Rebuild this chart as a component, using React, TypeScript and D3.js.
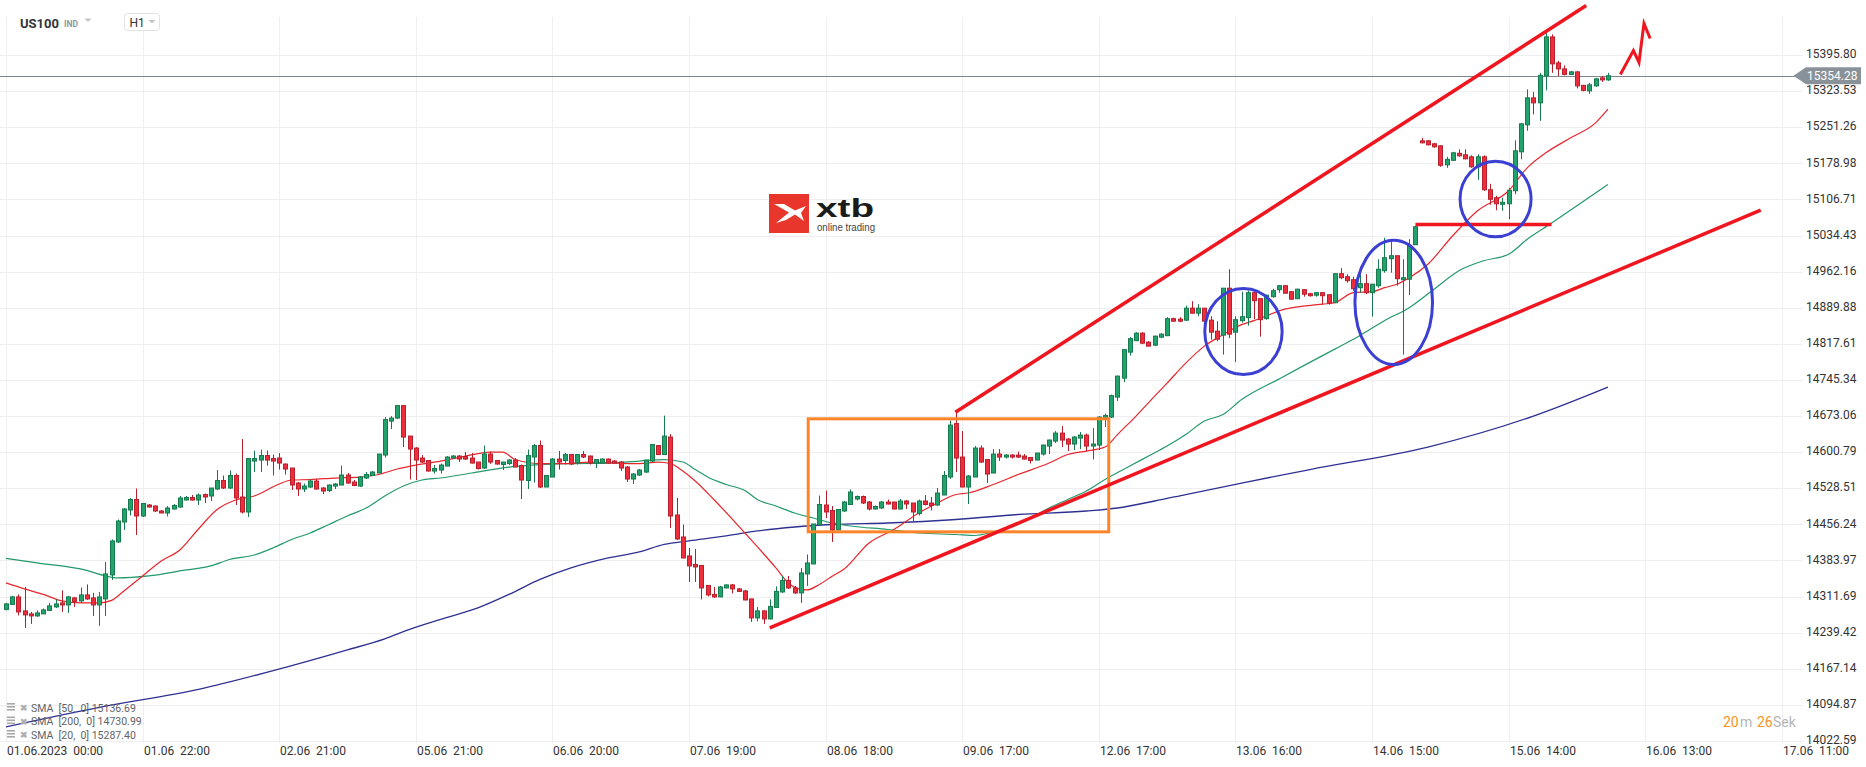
import React from 'react';
import * as d3 from 'd3';

const W = 1866;
const H = 767;

// ---- candle data (hourly, index 0 = 01.06.2023 00:00) ----
const openP = [
  14286,14296,14311,14283,14277,14273,14277,14284,14291,14299,
  14295,14309,14303,14315,14309,14295,14307,14355,14421,14461,
  14485,14506,14473,14495,14493,14483,14479,14487,14491,14505,
  14510,14505,14516,14513,14527,14544,14529,14554,14511,14481,
  14583,14585,14594,14588,14589,14577,14569,14539,14527,14531,
  14543,14529,14524,14533,14535,14555,14541,14533,14549,14554,
  14559,14595,14663,14669,14694,14633,14609,14589,14584,14563,
  14565,14573,14589,14593,14592,14589,14581,14569,14597,14584,
  14576,14578,14585,14574,14544,14591,14614,14531,14551,14587,
  14584,14596,14579,14596,14593,14579,14579,14587,14583,14581,
  14571,14547,14555,14561,14583,14614,14596,14631,14475,14431,
  14393,14376,14374,14334,14316,14311,14329,14335,14327,14323,
  14307,14269,14283,14267,14290,14321,14344,14329,14319,14357,
  14377,14455,14495,14484,14445,14483,14496,14507,14512,14501,
  14487,14489,14501,14501,14487,14503,14499,14478,14503,14499,
  14495,14515,14551,14658,14591,14531,14551,14609,14586,14559,
  14597,14591,14595,14595,14593,14590,14585,14597,14613,14623,
  14639,14627,14617,14629,14635,14613,14615,14669,14671,14711,
  14749,14801,14824,14839,14821,14815,14831,14834,14868,14867,
  14865,14889,14879,14889,14865,14843,14835,14929,14841,14864,
  14870,14920,14908,14868,14912,14926,14934,14922,14908,14926,
  14918,14915,14920,14916,14900,14958,14952,14946,14930,14938,
  14920,14934,14964,14988,14994,14946,14947,15016,15224,15224,
  15218,15214,15176,15185,15199,15196,15192,15172,15192,15126,
  15110,15097,15098,15124,15202,15256,15310,15300,15354,15432,
  15380,15368,15357,15362,15335,15324,15334,15350,15346,
];
const highP = [
  14299,14313,14316,14331,14281,14284,14288,14299,14306,14324,
  14313,14311,14330,14336,14319,14321,14381,14426,14466,14489,
  14509,14528,14499,14497,14494,14485,14493,14497,14513,14513,
  14515,14518,14518,14529,14565,14554,14564,14558,14627,14588,
  14604,14606,14604,14596,14599,14578,14569,14541,14538,14546,
  14547,14531,14536,14539,14574,14559,14545,14553,14561,14563,
  14597,14671,14673,14694,14694,14633,14611,14595,14584,14575,
  14578,14593,14595,14595,14601,14599,14581,14614,14602,14584,
  14581,14587,14589,14576,14606,14617,14624,14554,14589,14603,
  14599,14597,14597,14603,14594,14586,14588,14588,14585,14583,
  14573,14559,14567,14585,14616,14614,14674,14637,14509,14456,
  14409,14407,14374,14334,14331,14333,14336,14337,14329,14325,
  14307,14291,14284,14306,14332,14353,14353,14333,14369,14396,
  14457,14514,14524,14493,14487,14503,14526,14514,14514,14503,
  14494,14503,14506,14501,14507,14505,14499,14506,14515,14511,
  14529,14563,14664,14685,14643,14555,14613,14614,14587,14607,
  14607,14597,14597,14602,14597,14591,14599,14616,14626,14643,
  14653,14629,14633,14641,14638,14649,14673,14678,14716,14754,
  14807,14831,14841,14841,14823,14834,14839,14871,14870,14871,
  14894,14903,14897,14889,14873,14863,14929,14967,14873,14922,
  14924,14922,14908,14916,14928,14935,14935,14923,14928,14927,
  14920,14921,14921,14916,14959,14969,14957,14952,14957,14957,
  14937,14987,15030,15024,14994,14987,15027,15054,15230,15225,
  15220,15215,15192,15202,15207,15207,15195,15197,15195,15138,
  15114,15110,15130,15225,15260,15327,15322,15360,15440,15437,
  15384,15375,15364,15364,15336,15340,15350,15354,15360,
];
const lowP = [
  14284,14295,14274,14249,14257,14271,14277,14283,14289,14281,
  14279,14291,14299,14305,14273,14253,14273,14345,14419,14445,
  14474,14435,14471,14490,14481,14479,14472,14486,14489,14504,
  14504,14495,14499,14503,14525,14527,14527,14495,14478,14471,
  14561,14561,14574,14554,14566,14556,14525,14513,14521,14529,
  14526,14517,14521,14527,14535,14537,14533,14531,14547,14553,
  14558,14590,14647,14667,14611,14546,14545,14579,14562,14558,
  14558,14573,14588,14581,14585,14578,14566,14567,14577,14576,
  14565,14575,14571,14507,14527,14540,14529,14531,14551,14566,
  14576,14575,14576,14589,14576,14569,14577,14578,14578,14563,
  14541,14537,14553,14559,14581,14595,14595,14449,14425,14388,
  14341,14341,14306,14312,14309,14311,14328,14318,14321,14304,
  14261,14262,14257,14266,14289,14319,14327,14317,14299,14333,
  14377,14454,14469,14421,14445,14481,14495,14504,14497,14484,
  14486,14487,14496,14486,14486,14487,14463,14474,14494,14484,
  14493,14515,14547,14561,14531,14497,14551,14579,14539,14559,
  14583,14588,14588,14589,14586,14578,14585,14594,14597,14619,
  14611,14603,14605,14607,14603,14586,14605,14651,14669,14703,
  14741,14794,14823,14817,14813,14813,14829,14833,14862,14861,
  14863,14878,14873,14861,14826,14823,14796,14829,14781,14860,
  14854,14867,14832,14866,14910,14920,14919,14906,14907,14912,
  14912,14912,14896,14896,14899,14947,14940,14924,14920,14917,
  14872,14930,14960,14960,14934,14796,14915,15016,15219,15215,
  15210,15172,15170,15184,15192,15187,15170,15146,15124,15096,
  15085,15084,15067,15117,15187,15244,15277,15264,15325,15360,
  15354,15355,15356,15329,15323,15318,15332,15342,15344,
];
const closeP = [
  14297,14311,14281,14275,14273,14279,14285,14293,14297,14295,
  14311,14302,14315,14307,14295,14311,14357,14423,14463,14487,
  14506,14473,14498,14491,14483,14479,14489,14494,14509,14510,
  14505,14515,14511,14529,14544,14529,14554,14509,14481,14588,
  14588,14594,14585,14583,14579,14567,14535,14527,14533,14543,
  14527,14523,14535,14537,14555,14539,14534,14551,14556,14561,
  14597,14666,14669,14694,14631,14607,14585,14581,14563,14568,
  14575,14591,14593,14587,14587,14579,14568,14597,14581,14577,
  14581,14585,14571,14545,14594,14614,14531,14554,14587,14581,
  14596,14577,14596,14591,14579,14586,14587,14579,14579,14569,
  14547,14557,14565,14585,14616,14596,14633,14473,14427,14389,
  14373,14371,14329,14315,14311,14331,14335,14327,14322,14305,
  14269,14283,14267,14292,14322,14344,14329,14319,14359,14379,
  14457,14496,14481,14445,14486,14501,14521,14512,14499,14487,
  14492,14501,14497,14487,14503,14497,14481,14503,14496,14494,
  14519,14554,14655,14589,14531,14553,14609,14581,14557,14597,
  14591,14595,14591,14591,14587,14584,14599,14615,14625,14639,
  14625,14617,14631,14635,14613,14617,14671,14674,14714,14753,
  14806,14828,14839,14819,14813,14833,14837,14868,14863,14863,
  14889,14879,14889,14863,14841,14827,14929,14837,14866,14872,
  14920,14904,14866,14915,14924,14934,14919,14907,14927,14917,
  14914,14920,14914,14899,14958,14950,14944,14928,14938,14920,
  14937,14967,14990,14994,14948,14950,15015,15052,15220,15216,
  15212,15175,15187,15200,15194,15188,15172,15192,15126,15107,
  15098,15101,15125,15204,15258,15310,15300,15355,15432,15378,
  15368,15357,15362,15334,15325,15336,15348,15346,15354.28,
];

// ---- moving averages: [candle index, value] ----
const sma20 = [
  [0,14339],[3,14327],[6,14316],[9,14303],[12,14299],[15,14299],[17,14304],[19,14323],
  [22,14353],[25,14383],[28,14405],[31,14447],[34,14486],[37,14505],[40,14513],[44,14537],
  [46,14545],[49,14546],[53,14549],[57,14551],[60,14556],[63,14567],[66,14575],[70,14583],
  [74,14593],[78,14601],[80,14601],[82,14586],[86,14578],[90,14578],[94,14581],[98,14579],
  [102,14578],[105,14581],[107,14578],[109,14563],[111,14543],[114,14506],[119,14439],
  [124,14369],[126,14339],[128,14326],[129,14325],[131,14336],[133,14352],[135,14367],
  [139,14419],[143,14446],[147,14479],[150,14499],[153,14516],[155,14519],[159,14536],
  [163,14556],[168,14579],[171,14596],[174,14603],[177,14611],[179,14636],[182,14673],
  [185,14713],[187,14739],[190,14779],[193,14813],[196,14836],[199,14856],[201,14864],
  [206,14887],[212,14897],[214,14900],[217,14920],[220,14922],[222,14930],[224,14937],
  [226,14950],[229,14977],[233,15034],[237,15084],[242,15124],[245,15170],[248,15200],
  [252,15230],[256,15260],[258,15287.4],
];
const sma50 = [
  [0,14388],[5,14379],[13,14364],[16,14353],[18,14349],[23,14353],[29,14365],[33,14373],
  [36,14386],[40,14395],[43,14409],[46,14426],[49,14439],[52,14456],[55,14473],[58,14489],
  [61,14513],[64,14533],[67,14545],[70,14549],[75,14559],[81,14571],[86,14576],[91,14578],
  [97,14579],[102,14583],[106,14586],[109,14581],[111,14566],[113,14551],[116,14536],
  [119,14524],[121,14506],[124,14493],[127,14479],[130,14469],[133,14459],[136,14453],
  [142,14446],[147,14439],[153,14436],[156,14434],[159,14441],[163,14456],[168,14489],
  [171,14506],[174,14523],[177,14546],[181,14573],[184,14593],[187,14613],[190,14636],
  [193,14663],[196,14676],[199,14706],[205,14747],[209,14774],[214,14807],[218,14834],
  [222,14864],[226,14890],[230,14927],[234,14964],[238,14984],[242,14997],[245,15027],
  [249,15060],[253,15094],[258,15136.69],
];
const sma200 = [
  [0,14051],[15,14090],[31,14126],[45,14170],[55,14205],[61,14227],[65,14246],[70,14266],
  [76,14289],[81,14316],[86,14346],[91,14369],[97,14389],[102,14401],[106,14416],[110,14423],
  [116,14433],[121,14443],[127,14451],[133,14456],[142,14459],[153,14466],[163,14476],
  [174,14483],[179,14489],[185,14503],[190,14516],[199,14539],[210,14566],[229,14611],
  [246,14673],[258,14730.99],
];

// ---- axes ----
const yTickLabels = [
  '15395.80','15323.53','15251.26','15178.98','15106.71','15034.43','14962.16','14889.88',
  '14817.61','14745.34','14673.06','14600.79','14528.51','14456.24','14383.97','14311.69',
  '14239.42','14167.14','14094.87','14022.59',
];
const xTickLabels = [
  '01.06.2023  00:00','01.06  22:00','02.06  21:00','05.06  21:00','06.06  20:00',
  '07.06  19:00','08.06  18:00','09.06  17:00','12.06  17:00','13.06  16:00',
  '14.06  15:00','15.06  14:00','16.06  13:00','17.06  11:00',
];
const xTickEvery = 22;

// ---- drawings on the chart (candle index / price) ----
const trendUpper = [[152.9, 14680.7], [254.5, 15494.9]];
const trendLower = [[123.0, 14248.9], [282.6, 15085.3]];
const levelLine = [[227.0, 15056.5], [248.9, 15056.5]];
const boxRange = { i0: 129.2, i1: 177.6, p0: 14441.3, p1: 14667.5 };
const ellipses = [
  { ci: 199.3, cp: 14842.3, ri: 6.23, rp: 86.1 },
  { ci: 223.5, cp: 14900.7, ri: 6.25, rp: 124.5 },
  { ci: 239.9, cp: 15107.5, ri: 5.72, rp: 75.7 },
];
const squiggle = [[260.0, 15356.8], [262.1, 15404.8], [263.0, 15380.8], [263.8, 15458.9], [264.8, 15428.8]];

const legendRows = [
  'SMA  [50,  0] 15136.69',
  'SMA  [200,  0] 14730.99',
  'SMA  [20,  0] 15287.40',
];
const lastPrice = 15354.28;

const FONT = 'Roboto, "Noto Sans", sans-serif';

export default function App() {
  const xs = d3.scaleLinear().domain([0, 286]).range([6, 1781.8]);
  const ys = d3.scaleLinear().domain([14022.59, 15395.8]).range([741, 55]);
  const pxPerIdx = xs(1) - xs(0);
  const pxPerPt = ys(0) - ys(1);

  const lineGen = d3
    .line<number[]>()
    .x((d) => xs(d[0]))
    .y((d) => ys(d[1]))
    .curve(d3.curveMonotoneX);
  const straight = d3
    .line<number[]>()
    .x((d) => xs(d[0]))
    .y((d) => ys(d[1]));

  const greenFill = '#21a36b';
  const greenStroke = '#167a4e';
  const redFill = '#ee2e3d';
  const redStroke = '#b71f2c';

  const candles = openP.map((o, i) => {
    const c = closeP[i];
    const up = c >= o;
    const cx = Math.round(xs(i));
    const yTop = ys(Math.max(o, c));
    const yBot = ys(Math.min(o, c));
    const h = Math.max(1, yBot - yTop);
    return (
      <g key={i}>
        <line
          x1={cx + 0.5}
          x2={cx + 0.5}
          y1={ys(highP[i])}
          y2={ys(lowP[i])}
          stroke={up ? greenStroke : redStroke}
          strokeWidth={1}
        />
        <rect
          x={cx - 1.5}
          y={yTop}
          width={4}
          height={h}
          fill={up ? greenFill : redFill}
          stroke={up ? greenStroke : redStroke}
          strokeWidth={1}
        />
      </g>
    );
  });

  const yPrice = ys(lastPrice);
  const gridColor = '#efefef';

  return (
    <div style={{ position: 'absolute', left: 0, top: 0, width: W, height: H, background: '#fff' }}>
      <svg width={W} height={H} style={{ display: 'block', fontFamily: FONT }}>
        <rect x={0} y={0} width={W} height={H} fill="#fff" />
        {/* grid */}
        {yTickLabels.map((t) => (
          <line key={'hg' + t} x1={0} x2={1803} y1={Math.round(ys(+t)) + 0.5} y2={Math.round(ys(+t)) + 0.5} stroke={gridColor} strokeWidth={1} />
        ))}
        {xTickLabels.map((t, k) => (
          <line key={'vg' + t} x1={Math.round(xs(k * xTickEvery)) + 0.5} x2={Math.round(xs(k * xTickEvery)) + 0.5} y1={17} y2={743} stroke={gridColor} strokeWidth={1} />
        ))}

        {/* logo */}
        <g>
          <rect x={769} y={194} width={40} height={39} fill="#e8362c" />
          <path d="M774,204 L789,212.5 L776,223 L786,220 L795,214.5 L804,221 L801,213 L806,206 L795,210.5 L784,204 Z" fill="#fff" />
          <text x={816} y={217} fontFamily='"Liberation Sans", Arial, sans-serif' fontWeight={700} fontSize={26} fill="#1b1b1b" textLength={58} lengthAdjust="spacingAndGlyphs">xtb</text>
          <text x={817} y={231} fontFamily='"Liberation Sans", Arial, sans-serif' fontSize={10.5} fill="#444" textLength={58} lengthAdjust="spacingAndGlyphs">online trading</text>
        </g>

        {/* last price line */}
        <line x1={0} x2={1796} y1={Math.round(yPrice) + 0.5} y2={Math.round(yPrice) + 0.5} stroke="#7f878e" strokeWidth={1} />

        {/* moving averages */}
        <path d={lineGen(sma200) || ''} fill="none" stroke="#2e3192" strokeWidth={1.3} />
        <path d={lineGen(sma50) || ''} fill="none" stroke="#23996b" strokeWidth={1.2} />
        <path d={lineGen(sma20) || ''} fill="none" stroke="#e8262d" strokeWidth={1.2} />

        {/* candles */}
        {candles}

        {/* drawings */}
        <rect
          x={xs(boxRange.i0)}
          y={ys(boxRange.p1)}
          width={xs(boxRange.i1) - xs(boxRange.i0)}
          height={ys(boxRange.p0) - ys(boxRange.p1)}
          fill="none"
          stroke="#ff8429"
          strokeWidth={3}
        />
        <path d={straight(trendUpper) || ''} stroke="#f0161f" strokeWidth={3.5} fill="none" />
        <path d={straight(trendLower) || ''} stroke="#f0161f" strokeWidth={3.5} fill="none" />
        <path d={straight(levelLine) || ''} stroke="#f0161f" strokeWidth={3.5} fill="none" />
        <path d={straight(squiggle) || ''} stroke="#f0161f" strokeWidth={3} fill="none" strokeLinejoin="miter" />
        {ellipses.map((e, k) => (
          <ellipse key={'el' + k} cx={xs(e.ci)} cy={ys(e.cp)} rx={e.ri * pxPerIdx} ry={e.rp * pxPerPt} fill="none" stroke="#3b40d3" strokeWidth={3} />
        ))}

        {/* header */}
        <text x={20} y={28} fontSize={13} fontWeight={700} fill="#2f353a">US100</text>
        <text x={64} y={27} fontSize={8.5} fontWeight={700} fill="#8d989e">IND</text>
        <path d="M84.5,18.5 L91.5,18.5 L88,22 Z" fill="#c4c4c4" />
        <rect x={124.5} y={13.5} width={35} height={17} rx={3} fill="#fff" stroke="#e2e2e2" />
        <text x={129.5} y={27} fontSize={12} fill="#333">H1</text>
        <path d="M148.5,20 L155.5,20 L152,23.5 Z" fill="#c4c4c4" />

        {/* y axis labels */}
        {yTickLabels.map((t) => (
          <text key={'yl' + t} x={1806} y={ys(+t) - 1} dy="0.35em" fontSize={12} fill="#333">{t}</text>
        ))}
        {/* last price tag */}
        <path d={`M1793.5,${yPrice} L1806,${yPrice - 8.5} L1861,${yPrice - 8.5} L1861,${yPrice + 8.5} L1806,${yPrice + 8.5} Z`} fill="#8a9299" />
        <text x={1807} y={yPrice} dy="0.36em" fontSize={12} fill="#fff">{lastPrice.toFixed(2)}</text>

        {/* x axis labels */}
        {xTickLabels.map((t, k) => (
          <text key={'xl' + t} x={Math.round(xs(k * xTickEvery)) + 1} y={755} fontSize={12} fill="#333" style={{ whiteSpace: 'pre' }}>{t}</text>
        ))}

        {/* legend */}
        {legendRows.map((t, k) => {
          const yy = [708, 721.5, 735][k];
          return (
            <g key={'lg' + k}>
              <rect x={7} y={yy - 5} width={8} height={1.6} fill="#a9a9a9" />
              <rect x={7} y={yy - 2} width={8} height={1.6} fill="#a9a9a9" />
              <rect x={7} y={yy + 1} width={8} height={1.6} fill="#a9a9a9" />
              <text x={19.5} y={yy} dy="0.35em" fontSize={9} fontWeight={700} fill="#b0b0b0">✖</text>
              <text x={31} y={yy} dy="0.35em" fontSize={10.5} fill="#5f6368" style={{ whiteSpace: 'pre' }}>{t}</text>
            </g>
          );
        })}

        {/* countdown */}
        <text y={727} fontSize={14}>
          <tspan x={1723} fill="#f7941d">20</tspan>
          <tspan x={1740} fill="#b5b5b5">m</tspan>
          <tspan x={1757} fill="#f7941d">26</tspan>
          <tspan x={1773} fill="#b5b5b5">Sek</tspan>
        </text>
      </svg>
    </div>
  );
}
